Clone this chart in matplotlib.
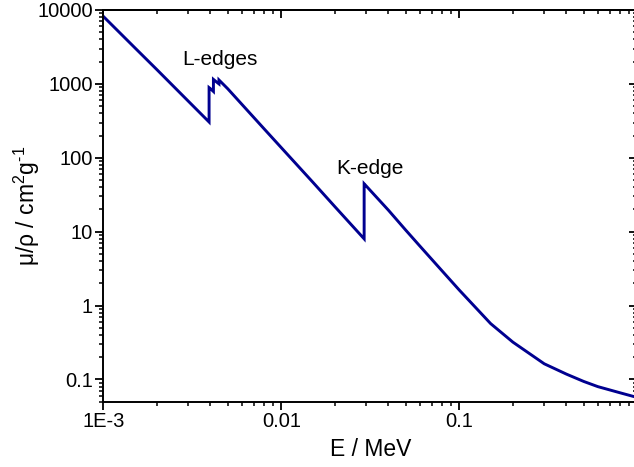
import matplotlib
matplotlib.use('Agg')
import matplotlib.pyplot as plt
from matplotlib.ticker import FixedLocator, FixedFormatter, LogLocator, NullFormatter

plt.rcParams['font.family'] = ['Liberation Sans', 'DejaVu Sans']
plt.rcParams['mathtext.fontset'] = 'custom'
plt.rcParams['mathtext.rm'] = 'Liberation Sans'
plt.rcParams['mathtext.it'] = 'Liberation Sans'

# photon energy (MeV) and mass attenuation coefficient (cm^2/g) for tin,
# edges appear as repeated energies
energy = [1.0e-3, 1.5e-3, 2.0e-3, 3.0e-3, 3.929e-3, 3.929e-3, 4.0e-3,
          4.156e-3, 4.156e-3, 4.308e-3, 4.465e-3, 4.465e-3, 5.0e-3, 6.0e-3,
          8.0e-3, 1.0e-2, 1.5e-2, 2.0e-2, 2.92e-2, 2.92e-2, 3.0e-2, 4.0e-2,
          5.0e-2, 6.0e-2, 8.0e-2, 0.1, 0.15, 0.2, 0.3, 0.4, 0.5, 0.6, 0.8, 1.0]
mu_rho = [8200, 3100, 1560, 585, 305, 890, 860,
          790, 1150, 1070, 1000, 1130, 860, 530,
          247, 137, 47, 21.8, 8.0, 44.5, 41.5, 19.5,
          10.5, 6.4, 2.95, 1.62, 0.57, 0.32, 0.163, 0.118, 0.094, 0.08, 0.066, 0.057]

x_ticks = [1e-3, 1e-2, 1e-1]
x_labels = ['1E-3', '0.01', '0.1']
y_ticks = [0.1, 1, 10, 100, 1000, 10000]
y_labels = ['0.1', '1', '10', '100', '1000', '10000']

W, H = 634, 467
fig = plt.figure(figsize=(W / 100, H / 100), dpi=100)
ax = fig.add_axes([103.3 / W, 1 - 401.7 / H, 534 / W, 391.7 / H])

ax.plot(energy, mu_rho, color='#000090', lw=2.1, solid_joinstyle='miter')
ax.set_xscale('log')
ax.set_yscale('log')
ax.set_xlim(1e-3, 1)
ax.set_ylim(0.05, 10000)

ax.xaxis.set_major_locator(FixedLocator(x_ticks))
ax.xaxis.set_major_formatter(FixedFormatter(x_labels))
ax.yaxis.set_major_locator(FixedLocator(y_ticks))
ax.yaxis.set_major_formatter(FixedFormatter(y_labels))
for axis in (ax.xaxis, ax.yaxis):
    axis.set_minor_locator(LogLocator(base=10, subs=range(2, 10), numticks=20))
    axis.set_minor_formatter(NullFormatter())

for sp in ax.spines.values():
    sp.set_linewidth(1.4)
ax.tick_params(which='major', direction='out', length=5.5, width=1.3,
               labelsize=14.5, pad=2)
ax.tick_params(which='minor', direction='out', length=2.8, width=1.1)

# inward ticks on the top and right frame
top = ax.secondary_xaxis('top')
right = ax.secondary_yaxis('right')
for sec, axis in ((top, top.xaxis), (right, right.yaxis)):
    axis.set_major_locator(FixedLocator(x_ticks if sec is top else y_ticks))
    axis.set_minor_locator(LogLocator(base=10, subs=range(2, 10), numticks=20))
    axis.set_major_formatter(NullFormatter())
    axis.set_minor_formatter(NullFormatter())
    sec.tick_params(which='major', direction='in', length=5.5, width=1.3)
    sec.tick_params(which='minor', direction='in', length=3, width=1.1)
    for sp in sec.spines.values():
        sp.set_linewidth(1.4)

ax.set_xlabel('E / MeV', fontsize=16.5)
ax.xaxis.set_label_coords(0.5, -0.092)
ax.set_ylabel('μ/ρ / cm$^{2}$g$^{\u2010 1}$', fontsize=16.5)
ax.yaxis.set_label_coords(-0.115, 0.5)

ax.text(4.5e-3, 1800, 'L-edges', fontsize=15, ha='center', va='baseline')
ax.text(0.0315, 61, 'K-edge', fontsize=15, ha='center', va='baseline')

fig.savefig('out.png', dpi=100)
